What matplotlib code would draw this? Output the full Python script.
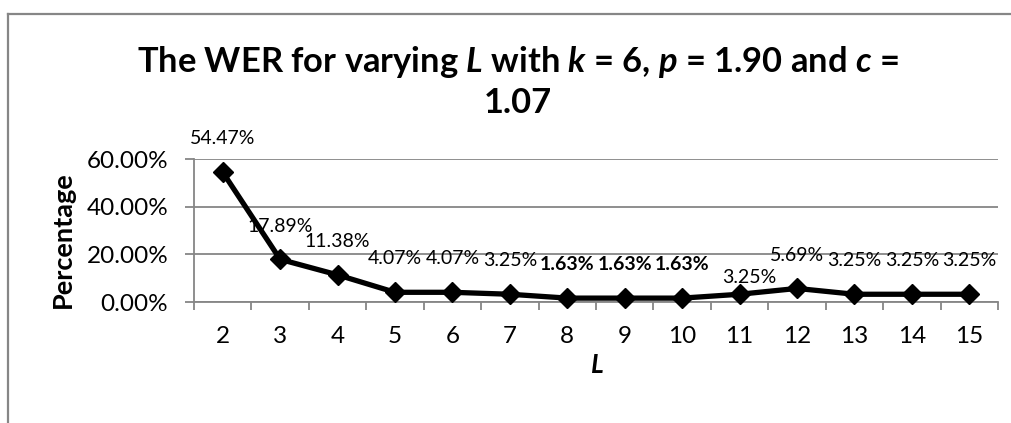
import matplotlib.pyplot as plt
from matplotlib.lines import Line2D
import numpy as np

plt.rcParams["font.family"] = ["Lato", "DejaVu Sans"]
plt.rcParams["mathtext.fontset"] = "custom"
plt.rcParams["mathtext.bfit"] = "Lato:italic:bold"
plt.rcParams["mathtext.bf"] = "Lato:bold"
plt.rcParams["mathtext.rm"] = "Lato"

# WER (%) for each window length L
lengths = [2, 3, 4, 5, 6, 7, 8, 9, 10, 11, 12, 13, 14, 15]
wer = [54.47, 17.89, 11.38, 4.07, 4.07, 3.25, 1.63, 1.63, 1.63, 3.25, 5.69, 3.25, 3.25, 3.25]
bold_lengths = [8, 9, 10]
y_ticks = [0, 20, 40, 60]

GRID = "#868686"

fig = plt.figure(figsize=(10.12, 4.23), dpi=100)
ax = fig.add_axes([194 / 1012, 1 - 302 / 423, 804 / 1012, 143 / 423])

x = np.arange(len(lengths))
ax.plot(x, wer, color="black", lw=3.8, marker="D", ms=10.5, zorder=3, clip_on=False)

for xi, L, v in zip(x, lengths, wer):
    dy = 12 if L == 11 else 24
    dx = 7 if L == 11 else 0
    ax.annotate(f"{v:.2f}%", (xi, v), xytext=(dx, dy), textcoords="offset points",
                ha="center", va="center", fontsize=14,
                fontweight="bold" if L in bold_lengths else "normal", zorder=4)

ax.set_xlim(-0.5, len(lengths) - 0.5)
ax.set_ylim(0, 60)
ax.set_yticks(y_ticks)
ax.set_yticklabels([f"{t:.2f}%" for t in y_ticks], fontsize=17.5)
ax.set_xticks(x)
ax.set_xticklabels([str(L) for L in lengths], fontsize=17.5)
ax.set_xticks(np.arange(len(lengths) + 1) - 0.5, minor=True)
ax.tick_params(axis="x", which="major", length=0, pad=17)
ax.tick_params(axis="x", which="minor", length=5.5, width=1.3, color=GRID)
ax.tick_params(axis="y", length=6.5, width=1.3, color=GRID, pad=12)

ax.grid(axis="y", color=GRID, lw=1.3)
ax.set_axisbelow(True)
for side in ["top", "right"]:
    ax.spines[side].set_visible(False)
for side in ["left", "bottom"]:
    ax.spines[side].set_color(GRID)
    ax.spines[side].set_linewidth(1.3)

fig.text(63 / 1012, 1 - 240 / 423, "Percentage", rotation=90, ha="center", va="center",
         fontsize=19.5, fontweight="bold")
fig.text(597 / 1012, 1 - 365 / 423, "L", ha="center", va="center",
         fontsize=19, fontweight="bold", style="italic")

title = (r"The WER for varying $\mathbfit{L}$ with $\mathbfit{k}$ = 6, "
         r"$\mathbfit{p}$ = 1.90 and $\mathbfit{c}$ =")
fig.text(518 / 1012, 1 - 62 / 423, title, ha="center", va="center",
         fontsize=24.8, fontweight="bold")
fig.text(518 / 1012, 1 - 103 / 423, "1.07", ha="center", va="center",
         fontsize=24.8, fontweight="bold")

# chart frame, running off the right and bottom edges
fig.add_artist(Line2D([8 / 1012, 1.01], [1 - 14 / 423] * 2, color=GRID, lw=1.6))
fig.add_artist(Line2D([8 / 1012] * 2, [1 - 14 / 423, -0.01], color=GRID, lw=1.6))

fig.savefig("out.png", dpi=100)
